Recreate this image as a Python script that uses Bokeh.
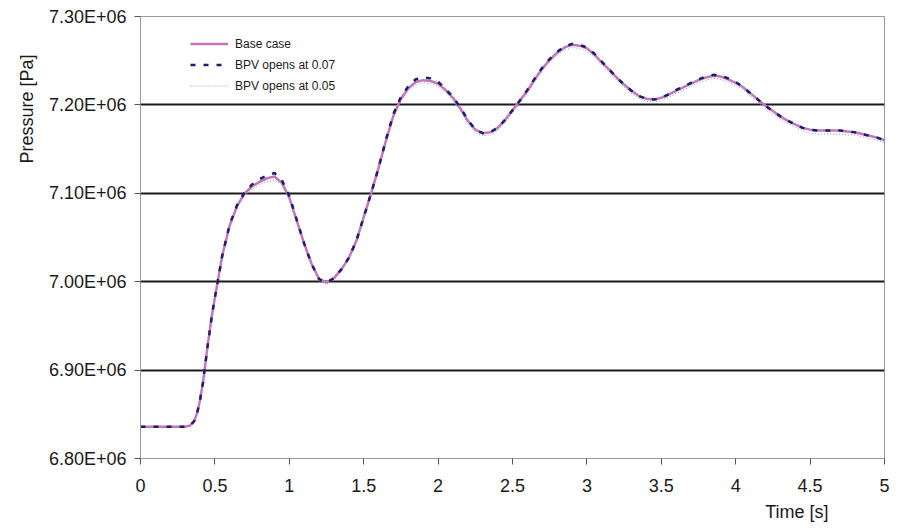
from bokeh.plotting import figure
from bokeh.models import (Legend, LegendItem, Title, CustomJSTickFormatter,
                          FixedTicker, Range1d)
from bokeh.embed import file_html
from bokeh.resources import INLINE

time = [0.0, 0.1, 0.2, 0.3, 0.33, 0.36, 0.38, 0.40, 0.42, 0.45, 0.48, 0.50,
        0.55, 0.60, 0.65, 0.70, 0.75, 0.80, 0.85, 0.90, 0.95, 1.00,
        1.05, 1.10, 1.15, 1.20, 1.25, 1.30, 1.35, 1.40, 1.45, 1.50,
        1.55, 1.60, 1.65, 1.70, 1.75, 1.80, 1.85, 1.90, 1.95, 2.00,
        2.05, 2.10, 2.15, 2.20, 2.25, 2.30, 2.35, 2.40, 2.45, 2.50,
        2.55, 2.60, 2.65, 2.70, 2.75, 2.80, 2.85, 2.90, 2.95, 3.00,
        3.05, 3.10, 3.15, 3.20, 3.25, 3.30, 3.35, 3.40, 3.45, 3.50,
        3.55, 3.60, 3.65, 3.70, 3.75, 3.80, 3.85, 3.90, 3.95, 4.00,
        4.05, 4.10, 4.15, 4.20, 4.25, 4.30, 4.35, 4.40, 4.45, 4.50,
        4.55, 4.60, 4.65, 4.70, 4.75, 4.80, 4.85, 4.90, 4.95, 5.00]

base_case = [6.836e6, 6.836e6, 6.836e6, 6.836e6, 6.837e6, 6.842e6, 6.851e6, 6.866e6, 6.886e6, 6.926e6, 6.962e6, 6.982e6,
             7.030e6, 7.064e6, 7.086e6, 7.100e6, 7.108e6, 7.113e6, 7.117e6, 7.119e6, 7.112e6, 7.095e6,
             7.069e6, 7.043e6, 7.020e6, 7.003e6, 6.999e6, 7.004e6, 7.014e6, 7.027e6, 7.046e6, 7.073e6,
             7.100e6, 7.129e6, 7.160e6, 7.188e6, 7.207e6, 7.219e6, 7.226e6, 7.228e6, 7.227e6, 7.224e6,
             7.217e6, 7.208e6, 7.196e6, 7.182e6, 7.172e6, 7.168e6, 7.169e6, 7.174e6, 7.183e6, 7.194e6,
             7.205e6, 7.216e6, 7.229e6, 7.241e6, 7.251e6, 7.259e6, 7.265e6, 7.268e6, 7.267e6, 7.264e6,
             7.257e6, 7.248e6, 7.240e6, 7.231e6, 7.223e6, 7.216e6, 7.210e6, 7.207e6, 7.206e6, 7.208e6,
             7.212e6, 7.216e6, 7.220e6, 7.224e6, 7.228e6, 7.231e6, 7.233e6, 7.232e6, 7.229e6, 7.225e6,
             7.220e6, 7.213e6, 7.206e6, 7.199e6, 7.193e6, 7.187e6, 7.182e6, 7.178e6, 7.174e6, 7.172e6,
             7.171e6, 7.171e6, 7.171e6, 7.171e6, 7.170e6, 7.169e6, 7.167e6, 7.165e6, 7.163e6, 7.160e6]

bpv_007 = [6.836e6, 6.836e6, 6.836e6, 6.836e6, 6.837e6, 6.842e6, 6.851e6, 6.866e6, 6.886e6, 6.926e6, 6.962e6, 6.982e6,
           7.030e6, 7.065e6, 7.087e6, 7.101e6, 7.110e6, 7.116e6, 7.120e6, 7.123e6, 7.115e6, 7.097e6,
           7.070e6, 7.043e6, 7.020e6, 7.003e6, 6.999e6, 7.004e6, 7.014e6, 7.027e6, 7.046e6, 7.073e6,
           7.100e6, 7.129e6, 7.161e6, 7.190e6, 7.209e6, 7.221e6, 7.229e6, 7.231e6, 7.230e6, 7.226e6,
           7.218e6, 7.209e6, 7.197e6, 7.183e6, 7.172e6, 7.168e6, 7.169e6, 7.174e6, 7.183e6, 7.194e6,
           7.205e6, 7.217e6, 7.230e6, 7.242e6, 7.252e6, 7.260e6, 7.266e6, 7.269e6, 7.268e6, 7.265e6,
           7.258e6, 7.249e6, 7.240e6, 7.231e6, 7.223e6, 7.216e6, 7.210e6, 7.207e6, 7.206e6, 7.208e6,
           7.212e6, 7.217e6, 7.221e6, 7.225e6, 7.229e6, 7.232e6, 7.234e6, 7.233e6, 7.230e6, 7.226e6,
           7.220e6, 7.213e6, 7.206e6, 7.199e6, 7.193e6, 7.187e6, 7.182e6, 7.178e6, 7.174e6, 7.172e6,
           7.171e6, 7.171e6, 7.171e6, 7.171e6, 7.170e6, 7.169e6, 7.167e6, 7.165e6, 7.163e6, 7.160e6]

bpv_005 = [6.836e6, 6.836e6, 6.836e6, 6.836e6, 6.837e6, 6.842e6, 6.851e6, 6.866e6, 6.886e6, 6.926e6, 6.962e6, 6.982e6,
           7.030e6, 7.063e6, 7.084e6, 7.097e6, 7.105e6, 7.110e6, 7.113e6, 7.115e6, 7.110e6, 7.094e6,
           7.068e6, 7.042e6, 7.019e6, 7.001e6, 6.997e6, 7.002e6, 7.012e6, 7.025e6, 7.044e6, 7.071e6,
           7.098e6, 7.127e6, 7.157e6, 7.185e6, 7.204e6, 7.216e6, 7.223e6, 7.225e6, 7.224e6, 7.221e6,
           7.214e6, 7.205e6, 7.193e6, 7.179e6, 7.169e6, 7.165e6, 7.166e6, 7.171e6, 7.180e6, 7.191e6,
           7.202e6, 7.213e6, 7.226e6, 7.238e6, 7.248e6, 7.256e6, 7.262e6, 7.265e6, 7.264e6, 7.261e6,
           7.254e6, 7.245e6, 7.237e6, 7.228e6, 7.220e6, 7.213e6, 7.207e6, 7.204e6, 7.203e6, 7.205e6,
           7.209e6, 7.213e6, 7.217e6, 7.221e6, 7.225e6, 7.228e6, 7.230e6, 7.229e6, 7.226e6, 7.222e6,
           7.217e6, 7.210e6, 7.203e6, 7.196e6, 7.190e6, 7.184e6, 7.179e6, 7.175e6, 7.171e6, 7.168e6,
           7.167e6, 7.167e6, 7.167e6, 7.167e6, 7.166e6, 7.166e6, 7.164e6, 7.162e6, 7.160e6, 7.157e6]

y_ticks = [6.8e6, 6.9e6, 7.0e6, 7.1e6, 7.2e6, 7.3e6]
grid_lines = [6.9e6, 7.0e6, 7.1e6, 7.2e6]
x_ticks = [0, 0.5, 1, 1.5, 2, 2.5, 3, 3.5, 4, 4.5, 5]

FONT = "Liberation Sans"

p = figure(width=897, height=530, output_backend="svg", toolbar_location=None,
           x_range=Range1d(0, 5), y_range=Range1d(6.8e6, 7.3e6),
           min_border_left=140, min_border_right=13, min_border_top=16,
           min_border_bottom=72)
p.background_fill_color = "white"
p.border_fill_color = "white"
p.outline_line_color = "#999999"
p.outline_line_width = 1

p.xgrid.visible = False
p.ygrid.ticker = FixedTicker(ticks=grid_lines)
p.ygrid.grid_line_color = "#1a1a1a"
p.ygrid.grid_line_width = 2

for ax in (p.xaxis[0], p.yaxis[0]):
    ax.axis_line_color = "#999999"
    ax.major_tick_line_color = "#555555"
    ax.major_tick_out = 6
    ax.major_tick_in = 0
    ax.minor_tick_line_color = None
    ax.major_label_text_font = FONT
    ax.major_label_text_color = "#1a1a1a"
    ax.major_label_text_font_size = "18px"

p.xaxis.ticker = FixedTicker(ticks=x_ticks)
p.yaxis.ticker = FixedTicker(ticks=y_ticks)
p.xaxis.formatter = CustomJSTickFormatter(code="return String(parseFloat(tick.toFixed(1)));")
p.yaxis.formatter = CustomJSTickFormatter(code="return (tick/1e6).toFixed(2) + 'E+06';")
p.xaxis.major_label_standoff = 14
p.yaxis.major_label_standoff = 8

r05 = p.line(time, bpv_005, line_color="#8f98c0", line_width=1, line_dash="1 2")
rb = p.line(time, base_case, line_color="#c278b4", line_width=2.5)
r07 = p.line(time, bpv_007, line_color="#1c1c72", line_width=2.5, line_dash="5 8")

legend = Legend(items=[LegendItem(label="Base case", renderers=[rb]),
                       LegendItem(label="BPV opens at 0.07", renderers=[r07]),
                       LegendItem(label="BPV opens at 0.05", renderers=[r05])],
                location=(50, 362))
legend.border_line_color = None
legend.background_fill_alpha = 0
legend.padding = 0
legend.margin = 0
legend.spacing = 0
legend.glyph_width = 38
legend.glyph_height = 21
legend.label_height = 21
legend.label_standoff = 7
legend.label_text_font = FONT
legend.label_text_font_size = "12px"
legend.label_text_color = "#1a1a1a"
p.add_layout(legend, "center")

ytitle = Title(text="Pressure [Pa]", align="right", offset=38,
               text_font=FONT, text_font_size="18px", text_font_style="normal",
               text_color="#1a1a1a", standoff=17)
xtitle = Title(text="Time [s]", align="right", offset=56,
               text_font=FONT, text_font_size="18px", text_font_style="normal",
               text_color="#1a1a1a", standoff=11)
p.add_layout(ytitle, "left")
p.add_layout(xtitle, "below")

open("out.html", "w").write(file_html(p, INLINE))
